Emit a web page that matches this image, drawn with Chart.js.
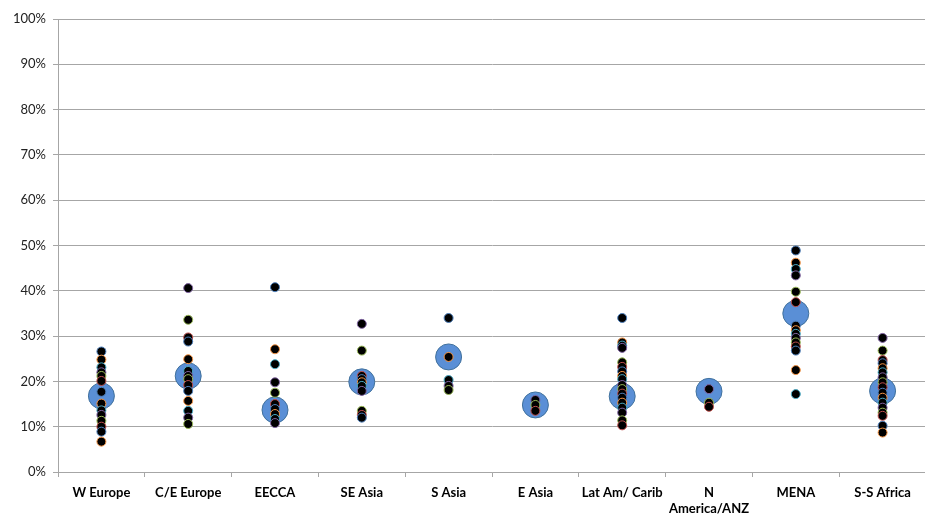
<!DOCTYPE html>
<html>
<head>
<meta charset="utf-8">
<script src="https://cdn.jsdelivr.net/npm/chart.js@4/dist/chart.umd.min.js"></script>
<style>
  html, body { margin: 0; padding: 0; background: #fff; overflow: hidden; }
  #wrap { width: 940px; height: 515px; position: relative; }
</style>
</head>
<body>
<div id="wrap"><canvas id="chart"></canvas></div>
<script>
const categories = ['W Europe', 'C/E Europe', 'EECCA', 'SE Asia', 'S Asia', 'E Asia',
    'Lat Am/ Carib', 'N America/ANZ', 'MENA', 'S-S Africa'];
const tickLabels = ['W Europe', 'C/E Europe', 'EECCA', 'SE Asia', 'S Asia', 'E Asia',
    'Lat Am/ Carib', ['N', 'America/ANZ'], 'MENA', 'S-S Africa'];

// per-country values (%), one list per region
const wEurope = [26.6, 24.8, 23.1, 22.0, 21.2, 20.1, 17.7, 15.1, 13.6, 12.6, 11.3, 10.0, 8.9, 6.7];
const ceEurope = [40.6, 33.6, 29.7, 28.8, 24.9, 22.3, 21.2, 20.5, 19.2, 17.9, 15.7, 13.5, 12.0, 10.6];
const eecca = [40.8, 27.1, 23.8, 19.8, 17.5, 15.0, 13.9, 12.8, 11.7, 10.8];
const seAsia = [32.7, 26.8, 21.2, 20.5, 19.8, 19.0, 17.9, 13.5, 12.6, 12.0];
const sAsia = [34.0, 25.4, 20.3, 19.0, 18.1];
const eAsia = [15.9, 14.8, 13.5];
const latAm = [34.0, 28.6, 27.9, 27.4, 24.2, 23.2, 22.2, 21.2, 20.5, 19.2, 18.3, 17.3, 16.4, 15.3, 14.2, 13.1, 11.4, 10.3];
const nAmerica = [18.3, 15.3, 14.4];
const mena = [48.9, 46.2, 44.8, 43.4, 39.8, 37.5, 32.3, 31.3, 30.5, 29.6, 28.6, 27.7, 26.8, 22.5, 17.2];
const ssAfrica = [29.6, 26.8, 24.7, 24.0, 22.9, 22.0, 20.9, 19.8, 18.7, 17.5, 16.4, 15.3, 14.2, 13.1, 12.4, 10.2, 8.7];

// regional averages (big circles)
const averages = [16.8, 21.2, 13.7, 19.9, 25.4, 14.8, 16.7, 17.8, 35.0, 17.9];

const countryValues = [wEurope, ceEurope, eecca, seAsia, sAsia, eAsia, latAm, nAmerica, mena, ssAfrica];
const outlineColors = ['#4F81BD', '#C0504D', '#9BBB59', '#8064A2', '#4BACC6', '#F79646'];

const points = [];
const borders = [];
countryValues.forEach((list, i) => {
    list.forEach((v, j) => {
        points.push({ x: categories[i], y: v });
        borders.push(outlineColors[(i * 3 + j * 5) % outlineColors.length]);
    });
});

const ctx = document.getElementById('chart').getContext('2d');
new Chart(ctx, {
    type: 'line',
    data: {
        labels: categories,
        datasets: [{
            label: 'Countries',
            data: points,
            showLine: false,
            pointRadius: 4.5,
            pointHoverRadius: 4.5,
            pointBackgroundColor: '#000',
            pointBorderColor: borders,
            pointBorderWidth: 1,
            order: 1
        }, {
            label: 'Average',
            data: averages.map((v, i) => ({ x: categories[i], y: v })),
            showLine: false,
            pointRadius: 13,
            pointHoverRadius: 13,
            pointBackgroundColor: '#5A8FD6',
            pointBorderColor: '#41719C',
            pointBorderWidth: 1,
            order: 2
        }]
    },
    options: {
        responsive: true,
        maintainAspectRatio: false,
        animation: false,
        layout: { padding: { left: 0, right: 2, top: 19, bottom: 0 } },
        plugins: {
            legend: { display: false },
            tooltip: { enabled: false }
        },
        scales: {
            x: {
                type: 'category',
                offset: true,
                grid: {
                    display: true,
                    offset: true,
                    drawOnChartArea: false,
                    drawTicks: true,
                    tickLength: 5,
                    color: '#A6A6A6'
                },
                border: { color: '#A6A6A6' },
                ticks: {
                    callback: (v, i) => tickLabels[i],
                    maxRotation: 0,
                    autoSkip: false,
                    padding: 8,
                    color: '#000',
                    font: { family: 'Lato, "Open Sans", sans-serif', size: 13, weight: 'bold' }
                },
                afterFit: (scale) => { scale.height = 43; }
            },
            y: {
                min: 0,
                max: 100,
                grid: {
                    color: '#A6A6A6',
                    drawTicks: true,
                    tickLength: 5
                },
                border: { color: '#A6A6A6' },
                ticks: {
                    stepSize: 10,
                    padding: 7,
                    color: '#222',
                    callback: (v) => v + '%',
                    font: { family: 'Lato, "Open Sans", sans-serif', size: 13 }
                },
                afterFit: (scale) => { scale.width = 58; }
            }
        }
    }
});
</script>
</body>
</html>
